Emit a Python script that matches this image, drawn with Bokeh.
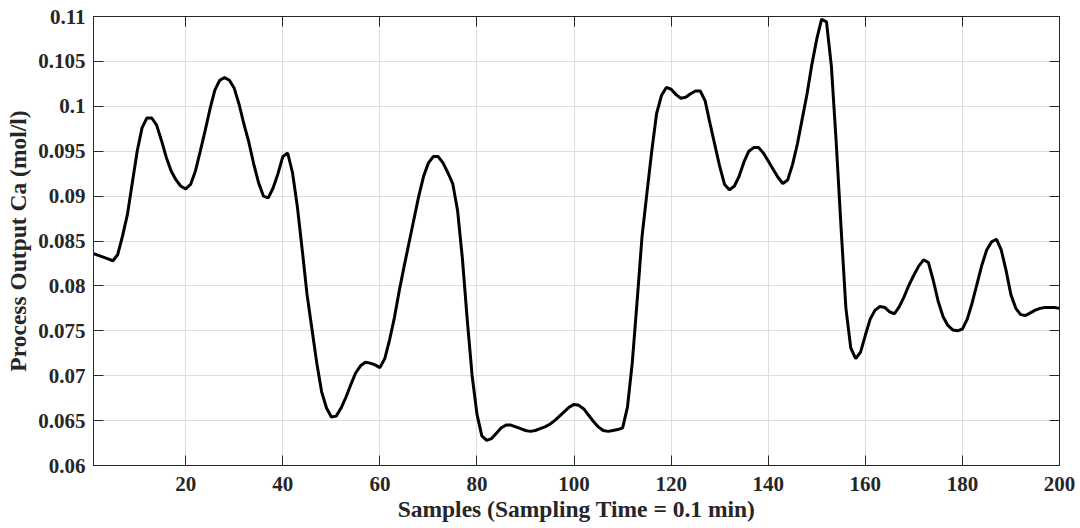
from bokeh.plotting import figure
from bokeh.models import Range1d, FixedTicker, LinearAxis, ColumnDataSource, CustomLabelingPolicy
from bokeh.embed import file_html
from bokeh.resources import INLINE

samples = list(range(1, 201))
ca = [
    0.0836, 0.0834, 0.0832, 0.0830, 0.0828, 0.0835, 0.0856, 0.0880, 0.0915, 0.0950,
    0.0976, 0.0987, 0.0987, 0.0979, 0.0962, 0.0943, 0.0928, 0.0918, 0.0911, 0.0908,
    0.0913, 0.0928, 0.0950, 0.0973, 0.0997, 0.1018, 0.1029, 0.1032, 0.1029, 0.1020,
    0.1002, 0.0980, 0.0960, 0.0936, 0.0915, 0.0900, 0.0898, 0.0909, 0.0925, 0.0944,
    0.0948, 0.0926, 0.0888, 0.0840, 0.0790, 0.0752, 0.0714, 0.0682, 0.0664, 0.0654,
    0.0655, 0.0664, 0.0676, 0.0690, 0.0703, 0.0711, 0.0715, 0.0714, 0.0712, 0.0709,
    0.0719, 0.0740, 0.0765, 0.0795, 0.0822, 0.0848, 0.0874, 0.0900, 0.0922, 0.0937,
    0.0944, 0.0944, 0.0937, 0.0926, 0.0914, 0.0884, 0.0830, 0.0762, 0.0700, 0.0657,
    0.0633, 0.0628, 0.0630, 0.0636, 0.0642, 0.0645, 0.0645, 0.0643, 0.0641, 0.0639,
    0.0638, 0.0639, 0.0641, 0.0643, 0.0646, 0.0650, 0.0655, 0.0660, 0.0665, 0.0668,
    0.0667, 0.0663, 0.0656, 0.0649, 0.0643, 0.0639, 0.0638, 0.0639, 0.0640, 0.0642,
    0.0665, 0.0715, 0.0784, 0.0855, 0.0903, 0.0950, 0.0992, 0.1012, 0.1021, 0.1019,
    0.1013, 0.1009, 0.1010, 0.1014, 0.1017, 0.1017, 0.1006, 0.0981, 0.0957, 0.0933,
    0.0913, 0.0907, 0.0911, 0.0922, 0.0938, 0.0950, 0.0954, 0.0954, 0.0948, 0.0939,
    0.0930, 0.0921, 0.0914, 0.0918, 0.0935, 0.0958, 0.0986, 0.1014, 0.1047, 0.1075,
    0.1097, 0.1094, 0.1045, 0.0960, 0.0865, 0.0775, 0.0731, 0.0719, 0.0726, 0.0745,
    0.0763, 0.0773, 0.0777, 0.0776, 0.0771, 0.0769, 0.0777, 0.0788, 0.0801, 0.0812,
    0.0822, 0.0829, 0.0826, 0.0806, 0.0783, 0.0766, 0.0756, 0.0751, 0.0750, 0.0752,
    0.0763, 0.0781, 0.0802, 0.0823, 0.0840, 0.0849, 0.0852, 0.0840, 0.0817, 0.0790,
    0.0775, 0.0768, 0.0767, 0.0770, 0.0773, 0.0775, 0.0776, 0.0776, 0.0776, 0.0775,
]

x_ticks = [20, 40, 60, 80, 100, 120, 140, 160, 180, 200]
y_ticks = [0.06, 0.065, 0.07, 0.075, 0.08, 0.085, 0.09, 0.095, 0.1, 0.105, 0.11]
y_tick_labels = ["0.06", "0.065", "0.07", "0.075", "0.08", "0.085", "0.09", "0.095", "0.1", "0.105", "0.11"]

x_label = "Samples (Sampling Time = 0.1 min)"
y_label = "Process Output Ca (mol/l)"

FONT = "Liberation Serif"
TXT = "#262626"

p = figure(width=1080, height=528, output_backend="svg", toolbar_location=None,
           x_range=Range1d(1, 200), y_range=Range1d(0.06, 0.11),
           min_border_left=93, min_border_right=21, min_border_top=16, min_border_bottom=63)

src = ColumnDataSource(dict(x=samples, y=ca))
p.line("x", "y", source=src, line_color="black", line_width=3)

p.xaxis.ticker = FixedTicker(ticks=x_ticks)
p.yaxis.ticker = FixedTicker(ticks=y_ticks)
p.yaxis.major_label_overrides = {str(v): l for v, l in zip(y_ticks, y_tick_labels)}
p.xgrid.ticker = FixedTicker(ticks=x_ticks)
p.ygrid.ticker = FixedTicker(ticks=y_ticks)
p.grid.grid_line_color = "#dedede"
p.grid.grid_line_width = 1

for ax in (p.xaxis[0], p.yaxis[0]):
    ax.major_tick_in = 10
    ax.major_tick_out = 0
    ax.minor_tick_in = 0
    ax.minor_tick_out = 0
    ax.axis_line_color = TXT
    ax.major_tick_line_color = TXT
    ax.major_label_text_font = FONT
    ax.major_label_text_font_style = "bold"
    ax.major_label_text_font_size = "21px"
    ax.major_label_text_color = TXT
    ax.axis_label_text_font = FONT
    ax.axis_label_text_font_style = "bold"
    ax.axis_label_text_font_size = "23.5px"
    ax.axis_label_text_color = TXT

p.xaxis.axis_label = x_label
p.yaxis.axis_label = y_label
p.xaxis.major_label_standoff = 11
p.xaxis.axis_label_standoff = 2
p.yaxis.major_label_standoff = 8
p.yaxis.axis_label_standoff = 4

hide_all = CustomLabelingPolicy(code="for (const i of indices) { indices.unset(i) }\nreturn indices")

top = LinearAxis(ticker=FixedTicker(ticks=x_ticks))
right = LinearAxis(ticker=FixedTicker(ticks=y_ticks))
for ax in (top, right):
    ax.major_tick_in = 10
    ax.major_tick_out = 0
    ax.minor_tick_in = 0
    ax.minor_tick_out = 0
    ax.axis_line_color = TXT
    ax.major_tick_line_color = TXT
    ax.major_label_text_font_size = "0px"
    ax.major_label_standoff = 0
    ax.major_label_policy = hide_all
p.add_layout(top, "above")
p.add_layout(right, "right")

p.outline_line_color = TXT
p.background_fill_color = "white"
p.border_fill_color = "white"

open("out.html", "w").write(file_html(p, INLINE))
